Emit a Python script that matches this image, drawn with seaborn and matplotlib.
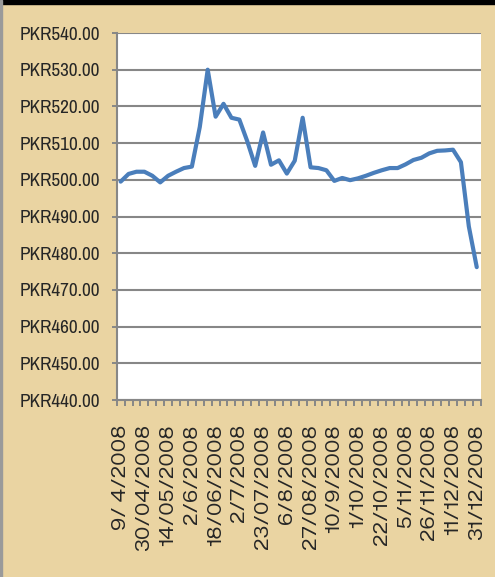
import numpy as np
import pandas as pd
import matplotlib
matplotlib.use("Agg")
import matplotlib.pyplot as plt
from matplotlib import font_manager
from matplotlib.ticker import FixedLocator, FuncFormatter
import seaborn as sns

# ---- data ----
tick_labels = ["9/ 4/2008", "30/04/2008", "14/05/2008", "2/6/2008", "18/06/2008",
               "2/7/2008", "23/07/2008", "6/8/2008", "27/08/2008", "10/9/2008",
               "1/10/2008", "22/10/2008", "5/11/2008", "26/11/2008", "11/12/2008",
               "31/12/2008"]
prices = [499.5, 501.6, 502.2, 502.2, 501.1, 499.3, 501.1, 502.2, 503.2, 503.6,
          514.4, 530.0, 517.2, 520.7, 516.9, 516.4, 510.5, 503.8, 512.9, 504.1,
          505.3, 501.7, 505.2, 516.9, 503.4, 503.2, 502.6, 499.7, 500.5, 499.9,
          500.4, 501.1, 501.9, 502.6, 503.2, 503.2, 504.2, 505.4, 506.0, 507.2,
          507.9, 508.0, 508.2, 504.8, 487.3, 476.2]
y_ticks = [440, 450, 460, 470, 480, 490, 500, 510, 520, 530, 540]
label_every = 3

df = pd.DataFrame({"idx": np.arange(len(prices)), "price": prices})

sns.set_theme(style="white")
names = {f.name for f in font_manager.fontManager.ttflist}


def pick(cands):
    for c in cands:
        if c in names:
            return c
    return "DejaVu Sans"


narrow = pick(["Liberation Sans Narrow", "Archivo Narrow", "PT Sans Narrow",
               "Roboto Condensed", "Liberation Sans"])
wide = pick(["Zalando Sans SemiExpanded", "Zalando Sans Expanded", "DejaVu Sans"])
plt.rcParams["font.family"] = ["DejaVu Sans"]

bg = "#EAD4A2"
grid_c = "#878787"
fig = plt.figure(figsize=(4.95, 5.77), dpi=100, facecolor=bg)
fig.patches.append(plt.Rectangle((0, 1 - 4 / 577), 1, 4 / 577, transform=fig.transFigure,
                                 color="black", zorder=0))
fig.patches.append(plt.Rectangle((0, 0), 2 / 495, 1, transform=fig.transFigure,
                                 color="#9a9a9a", zorder=0))

ax = fig.add_axes([116.7 / 495, 1 - 400 / 577, (480.7 - 116.7) / 495, (400 - 33) / 577])
ax.set_facecolor("white")

sns.lineplot(data=df, x="idx", y="price", ax=ax, color="#4A7EBB", linewidth=3.0,
             legend=False, zorder=3)

ax.set_xlim(-0.5, len(prices) - 0.5)
ax.set_ylim(y_ticks[0], y_ticks[-1])
ax.set_xlabel("")
ax.set_ylabel("")

# y axis
ax.yaxis.set_major_locator(FixedLocator(y_ticks))
ax.yaxis.set_major_formatter(FuncFormatter(lambda v, p: f"PKR{v:.2f}"))
ax.tick_params(axis="y", which="major", length=3.6, width=1.4, color=grid_c,
               direction="out", pad=8.5, left=True, labelsize=13.8)
for t in ax.get_yticklabels():
    t.set_family([narrow, "DejaVu Sans"])
ax.grid(axis="y", color=grid_c, linewidth=1.5, zorder=1)
ax.set_axisbelow(True)

# x axis
label_pos = list(range(0, len(prices), label_every))
ax.xaxis.set_major_locator(FixedLocator(label_pos))
ax.set_xticklabels(tick_labels[:len(label_pos)], rotation=90, va="top", ha="center",
                   family=[wide, "DejaVu Sans"])
ax.xaxis.set_minor_locator(FixedLocator(np.arange(-0.5, len(prices), 1.0)))
ax.tick_params(axis="x", which="major", length=0, pad=17.5, labelsize=13.3, bottom=True)
ax.tick_params(axis="x", which="minor", length=4.3, width=1.4, color=grid_c,
               direction="out", bottom=True)

for s in ["top", "right"]:
    ax.spines[s].set_visible(False)
for s in ["left", "bottom"]:
    ax.spines[s].set_visible(True)
    ax.spines[s].set_color(grid_c)
    ax.spines[s].set_linewidth(1.5)

fig.savefig("out.png", dpi=100, facecolor=bg)
